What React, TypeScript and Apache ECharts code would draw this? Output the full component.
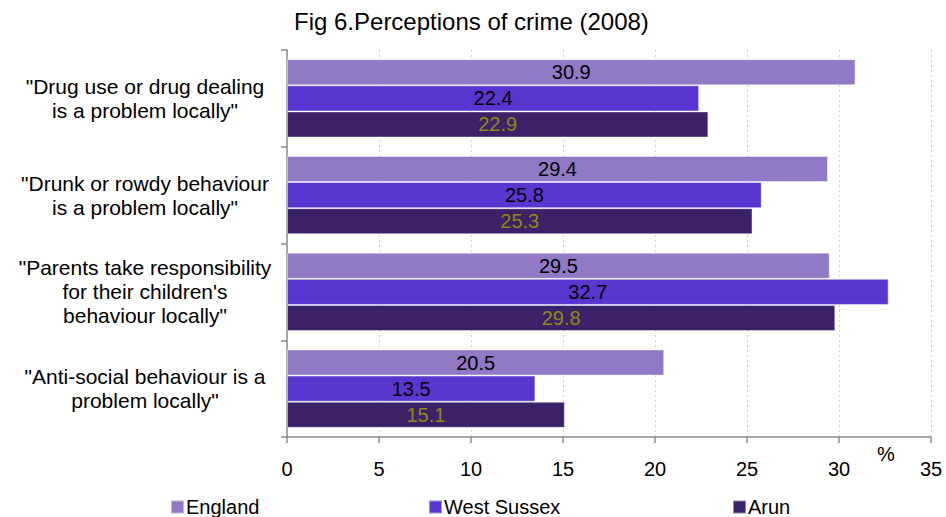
import React, { useEffect, useRef } from "react";
import * as echarts from "echarts";

const categories = [
  '"Drug use or drug dealing\nis a problem locally"',
  '"Drunk or rowdy behaviour\nis a problem locally"',
  '"Parents take responsibility\nfor their children\'s\nbehaviour locally"',
  '"Anti-social behaviour is a\nproblem locally"',
];
const england = [30.9, 29.4, 29.5, 20.5];
const westSussex = [22.4, 25.8, 32.7, 13.5];
const arun = [22.9, 25.3, 29.8, 15.1];
const seriesNames = ["England", "West Sussex", "Arun"];
const colors = ["#9179C5", "#5B35D0", "#3B2168"];
const labelColors = ["#000000", "#000000", "#8A8A12"];
const font = "Liberation Sans, Arial, sans-serif";

export default function App() {
  const ref = useRef<HTMLDivElement>(null);
  useEffect(() => {
    if (!ref.current) return;
    const chart = echarts.init(ref.current, undefined, { renderer: "svg" });
    const values = [england, westSussex, arun];
    const legendLefts = [170, 428, 732];
    chart.setOption({
      animation: false,
      backgroundColor: "#ffffff",
      textStyle: { fontFamily: font },
      title: {
        text: "Fig 6.Perceptions of crime (2008)",
        left: 294,
        top: 9,
        padding: 0,
        textStyle: { fontFamily: font, fontSize: 24, fontWeight: "normal", color: "#000" },
      },
      graphic: [
        {
          type: "text",
          left: 877,
          top: 444,
          style: { text: "%", font: `20px ${font}`, fill: "#000" },
        },
      ],
      legend: seriesNames.map((n, i) => ({
        data: [n],
        left: legendLefts[i],
        top: 497,
        icon: "rect",
        itemWidth: 13,
        itemHeight: 13,
        itemGap: 2,
        padding: 0,
        textStyle: { fontFamily: font, fontSize: 20, color: "#000", padding: [0, 0, 0, -3] },
      })),
      grid: { left: 287, right: 15, top: 50, bottom: 80 },
      xAxis: {
        type: "value",
        min: 0,
        max: 35,
        interval: 5,
        axisLine: { show: true, lineStyle: { color: "#8c8c8c", width: 1.5 } },
        axisTick: { show: true, length: 6, lineStyle: { color: "#8c8c8c", width: 1.5 } },
        axisLabel: { fontFamily: font, fontSize: 20, color: "#000", margin: 22 },
        splitLine: { show: true, lineStyle: { color: "#d8d3b0", type: [2, 3], width: 1 } },
      },
      yAxis: {
        type: "category",
        inverse: true,
        data: categories,
        axisLine: { show: true, lineStyle: { color: "#8c8c8c", width: 1.5 } },
        axisTick: { show: true, length: 6, lineStyle: { color: "#8c8c8c", width: 1.5 } },
        axisLabel: {
          fontFamily: font,
          fontSize: 21,
          lineHeight: 24,
          color: "#000",
          align: "center",
          margin: 142,
        },
      },
      series: seriesNames.map((n, i) => ({
        name: n,
        type: "bar",
        data: values[i],
        barGap: "0%",
        barCategoryGap: "19%",
        itemStyle: { color: colors[i], borderColor: "rgba(255,255,255,0.45)", borderWidth: 1 },
        label: {
          show: true,
          position: "inside",
          fontFamily: font,
          fontSize: 20,
          color: labelColors[i],
          formatter: (p: any) => p.value.toFixed(1),
        },
      })),
    });
    return () => chart.dispose();
  }, []);
  return (
    <div
      ref={ref}
      style={{ position: "fixed", left: 0, top: 0, width: 946, height: 517 }}
    />
  );
}
